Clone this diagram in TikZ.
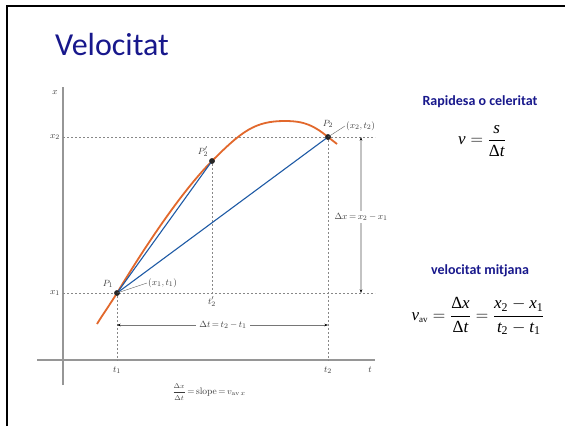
\documentclass[tikz,border=0pt]{standalone}
\usepackage{amsmath}
\usepackage{fontspec}
\newfontfamily\carl{Carlito}
\newfontfamily\tms{Liberation Serif}
\usetikzlibrary{arrows.meta}
\newcommand{\tmi}[1]{\text{\tms\itshape #1}}
\newcommand{\tmr}[1]{\text{\tms #1}}
\definecolor{navy}{RGB}{24,24,140}
\definecolor{labgray}{RGB}{60,60,60}
\definecolor{dashgray}{RGB}{135,135,135}
\definecolor{axisgray}{RGB}{150,150,150}
\definecolor{curveor}{RGB}{226,104,44}
\definecolor{lineblue}{RGB}{30,90,165}
\definecolor{arrgray}{RGB}{195,195,195}
\begin{document}
\begin{tikzpicture}[x=1pt,y=-1pt,
  lab/.style={text=labgray, font=\fontsize{9.5}{11}\selectfont, inner sep=1pt},
  guide/.style={draw=dashgray, line width=0.8pt, dash pattern=on 2pt off 2pt},
  dot/.style={circle, fill=black!85, inner sep=0pt, minimum size=5.5pt},
  axisline/.style={draw=axisgray, line width=1.6pt},
  chord/.style={draw=lineblue, line width=1.1pt},
  dimline/.style={draw=arrgray, line width=1.3pt, {Stealth[black,length=3.5pt,width=2.5pt]}-{Stealth[black,length=3.5pt,width=2.5pt]}},
  dimline2/.style={draw=labgray!70, line width=0.5pt, {Stealth[black,length=3.5pt,width=2.5pt]}-{Stealth[black,length=3.5pt,width=2.5pt]}},
  leader/.style={draw=labgray!80, line width=0.4pt},
  heading/.style={text=navy, font=\carl\bfseries\fontsize{14}{16}\selectfont, inner sep=0pt},
  formula/.style={font=\fontsize{17}{20}\selectfont, inner sep=0pt}
]
\useasboundingbox (0,0) rectangle (565,426);
\fill[white] (0,0) rectangle (565,426);
\draw[line width=2.5pt] (7,426) -- (7,6) -- (565,6);

% title
\node[anchor=base west, text=navy, font=\carl\fontsize{32}{36}\selectfont, inner sep=0pt] (title) at (55,55) {Velocitat};

% axes
\coordinate (ytop) at (63,87);
\coordinate (ybot) at (63,385);
\coordinate (xleft) at (37,360);
\coordinate (xright) at (375,360);
\draw[axisline] (ybot) -- (ytop);
\draw[axisline] (xleft) -- (xright);

% guide coordinates
\coordinate (x2L) at (63,137);
\coordinate (x2R) at (375,137);
\coordinate (x1L) at (63,293);
\coordinate (x1R) at (375,293);
\coordinate (t1b) at (117,360);
\coordinate (t2b) at (328,360);
\coordinate (t2pb) at (212,293);

\draw[guide] (x2L) -- (x2R);
\draw[guide] (x1L) -- (x1R);

% points
\node[dot] (P1) at (117,293) {};
\node[dot] (P2p) at (212,161) {};
\node[dot] (P2) at (328,137) {};
\coordinate (c0) at (97,324);
\coordinate (pk) at (285,121);
\coordinate (c9) at (337,144);

\draw[guide] (P2p) -- (t2pb);
\draw[guide] (P1) -- (t1b);
\draw[guide] (P2) -- (t2b);

% curve
\draw[curveor, line width=1.8pt] (c0) .. controls (104,312.5) and (110,304.5) .. (P1.center)
  .. controls (152,235) and (186,187) .. (P2p.center)
  .. controls (242,131) and (255,121) .. (pk)
  .. controls (305,121) and (314,125.8) .. (P2.center)
  .. controls (331,139.4) and (334,141.6) .. (c9);

% chords
\draw[chord] (P1.center) -- (P2p.center);
\draw[chord] (P1.center) -- (P2.center);
\node[dot] at (P1) {};
\node[dot] at (P2p) {};
\node[dot] at (P2) {};

% axis labels
\node[lab] (lx) at (55,93) {$x$};
\node[lab] (lx2) at (55,137) {$x_2$};
\node[lab] (lx1) at (55,293) {$x_1$};
\node[lab] (lt1) at (117,370) {$t_1$};
\node[lab] (lt2) at (328,370) {$t_2$};
\node[lab] (lt) at (370,370) {$t$};
\node[lab] (lt2p) at (212,302) {$t_2'$};

% point labels
\node[lab] (lP1) at (108,284) {$P_1$};
\node[lab] (lP2p) at (203,152) {$P_2'$};
\node[lab] (lP2) at (328,124) {$P_2$};
\node[lab, anchor=west] (c1) at (147,283) {$(x_1, t_1)$};
\node[lab, anchor=west] (c2) at (345,126) {$(x_2, t_2)$};
\draw[leader] (P1.center) -- (c1.west);
\draw[leader] (P2.center) -- (c2.west);

% dimension arrows
\coordinate (dxT) at (361,137);
\coordinate (dxB) at (361,293);
\draw[dimline] (dxT) -- (dxB);
\node[lab, fill=white, inner sep=2pt] (dxl) at (361,217) {$\Delta x\,{=}\,x_2\,{-}\,x_1$};

\coordinate (dtL) at (117,325);
\coordinate (dtR) at (328,325);
\draw[dimline2] (dtL) -- (dtR);
\node[lab, fill=white, inner sep=3pt] (dtl) at (223,325) {$\Delta t\,{=}\,t_2\,{-}\,t_1$};

% slope formula
\node[lab] (slope) at (209,392) {$\dfrac{\scriptstyle\Delta x}{\scriptstyle\Delta t}\,{=}\,\mathrm{slope}\,{=}\,v_{\mathrm{av}\,x}$};

% right side
\node[heading, anchor=base] (h1) at (480,105) {Rapidesa o celeritat};
\node[formula] (f1) at (482,141) {$\tmi{v} = \dfrac{\tmi{s}}{\tmr{Δ}\tmi{t}}$};

\node[heading, anchor=base] (h2) at (480,274) {velocitat mitjana};
\node[formula] (f2) at (478,316) {$\tmi{v}_{\text{\tms\fontsize{9}{10}\selectfont av}} = \dfrac{\tmr{Δ}\tmi{x}}{\tmr{Δ}\tmi{t}} = \dfrac{\tmi{x}_{\tmr{2}} - \tmi{x}_{\tmr{1}}}{\tmi{t}_{\tmr{2}} - \tmi{t}_{\tmr{1}}}$};
\end{tikzpicture}
\end{document}
